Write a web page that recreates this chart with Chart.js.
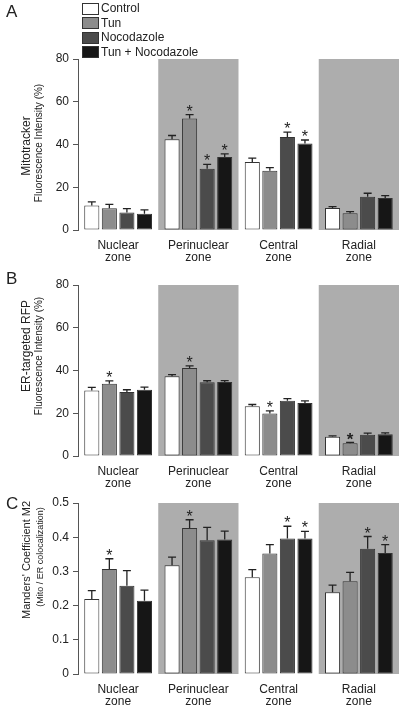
<!DOCTYPE html>
<html>
<head>
<meta charset="utf-8">
<script src="https://cdn.jsdelivr.net/npm/chart.js@4"></script>
<style>
  body { margin: 0; background: #fff; }
  #wrap { position: relative; width: 404px; height: 709px; font-family: "Liberation Sans", Arial, sans-serif; color: #222; }
  canvas { position: absolute; left: 0; }
  .t { position: absolute; white-space: nowrap; line-height: 1; }
  .rot { transform: translate(-50%, -50%) rotate(-90deg); }
  .key { position: absolute; left: 82px; width: 15px; height: 10px; border: 1px solid #333; }
</style>
</head>
<body>
<div id="wrap">
  <canvas id="chartA" width="404" height="266" style="top:0"></canvas>
  <canvas id="chartB" width="404" height="230" style="top:262px"></canvas>
  <canvas id="chartC" width="404" height="229" style="top:480px"></canvas>

  <div class="t" style="left:6px;top:3px;font-size:17px">A</div>
  <div class="t" style="left:6px;top:270px;font-size:17px">B</div>
  <div class="t" style="left:6px;top:495px;font-size:17px">C</div>

  <div class="key" style="top:3px;background:#fff"></div>
  <div class="key" style="top:17px;background:#8c8c8c"></div>
  <div class="key" style="top:32px;background:#4b4b4b"></div>
  <div class="key" style="top:46px;background:#161616"></div>
  <div class="t" style="left:101px;top:2px;font-size:12px">Control</div>
  <div class="t" style="left:101px;top:17px;font-size:12px">Tun</div>
  <div class="t" style="left:101px;top:31px;font-size:12px">Nocodazole</div>
  <div class="t" style="left:101px;top:46px;font-size:12px">Tun + Nocodazole</div>

  <div class="t rot" style="left:26px;top:146px;font-size:12px">Mitotracker</div>
  <div class="t rot" style="left:39px;top:143px;font-size:10px">Fluorescence Intensity (%)</div>
  <div class="t rot" style="left:26px;top:346px;font-size:12px">ER-targeted RFP</div>
  <div class="t rot" style="left:39px;top:356px;font-size:10px">Fluorescence Intensity (%)</div>
  <div class="t rot" style="left:26px;top:560px;font-size:11px">Manders' Coefficient M2</div>
  <div class="t rot" style="left:40px;top:557px;font-size:9px">(Mito / ER colocalization)</div>
</div>

<script>
const zones = [['Nuclear', 'zone'], ['Perinuclear', 'zone'], ['Central', 'zone'], ['Radial', 'zone']];
const groups = ['Control', 'Tun', 'Nocodazole', 'Tun + Nocodazole'];
const colors = ['#ffffff', '#8c8c8c', '#4b4b4b', '#161616'];
const shadedZones = [1, 3];

// A - Mitotracker
const mitoControl = [11.5, 42.4, 31.8, 10.3];
const mitoTun = [10.2, 52.2, 27.7, 7.8];
const mitoNoc = [8.2, 28.6, 43.5, 15.6];
const mitoTunNoc = [7.6, 34.1, 40.5, 15.0];
const mitoErr = [[1.7, 1.8, 1.8, 0.6], [1.8, 1.8, 1.5, 0.8], [1.8, 2.1, 2.3, 1.6], [1.8, 1.5, 1.6, 1.1]];
const mitoStars = [[0, 0, 0, 0], [0, 1, 0, 0], [0, 1, 1, 0], [0, 1, 1, 0]];

// B - ER-targeted RFP
const erControl = [30.6, 37.3, 23.3, 9.0];
const erTun = [33.8, 41.2, 19.9, 6.0];
const erNoc = [30.0, 34.5, 25.8, 10.0];
const erTunNoc = [31.0, 34.6, 24.8, 10.2];
const erErr = [[1.5, 0.8, 0.8, 0.4], [1.3, 1.0, 1.2, 0.4], [1.0, 0.7, 1.0, 0.7], [1.2, 0.7, 1.0, 0.6]];
const erStars = [[0, 0, 0, 0], [1, 1, 1, 2], [0, 0, 0, 0], [0, 0, 0, 0]];

// C - Manders' coefficient
const m2Control = [0.219, 0.318, 0.283, 0.239];
const m2Tun = [0.307, 0.427, 0.352, 0.271];
const m2Noc = [0.258, 0.391, 0.396, 0.366];
const m2TunNoc = [0.214, 0.393, 0.396, 0.354];
const m2Err = [[0.025, 0.024, 0.022, 0.021], [0.030, 0.024, 0.026, 0.026], [0.044, 0.038, 0.036, 0.036], [0.031, 0.025, 0.021, 0.024]];
const m2Stars = [[0, 0, 0, 0], [1, 1, 0, 0], [0, 0, 1, 1], [0, 0, 1, 1]];

const FONT = '"Liberation Sans", Arial, sans-serif';

const shadePlugin = {
    id: 'shade',
    beforeDatasetsDraw(chart) {
        const ctx = chart.ctx;
        const xs = chart.scales.x;
        const area = chart.chartArea;
        const half = xs.width / zones.length / 2;
        ctx.save();
        ctx.fillStyle = '#adadad';
        shadedZones.forEach(function (i) {
            const cx = xs.getPixelForValue(i);
            ctx.fillRect(cx - half, area.top, half * 2, area.bottom - area.top);
        });
        ctx.restore();
    }
};

const errorPlugin = {
    id: 'errors',
    afterDatasetsDraw(chart, args, opts) {
        const ctx = chart.ctx;
        const ys = chart.scales.y;
        ctx.save();
        ctx.strokeStyle = '#222';
        ctx.fillStyle = '#222';
        ctx.lineWidth = 1.3;
        chart.data.datasets.forEach(function (ds, i) {
            const meta = chart.getDatasetMeta(i);
            meta.data.forEach(function (bar, j) {
                const top = ys.getPixelForValue(ds.data[j] + opts.err[i][j]);
                ctx.beginPath();
                ctx.moveTo(bar.x, bar.y);
                ctx.lineTo(bar.x, top);
                ctx.moveTo(bar.x - 4, top);
                ctx.lineTo(bar.x + 4, top);
                ctx.stroke();
                const s = opts.stars[i][j];
                if (s) {
                    // star 2 = the heavier asterisk in panel B
                    ctx.font = (s === 2 ? 'bold 17px ' : '16px ') + FONT;
                    ctx.textAlign = 'center';
                    ctx.textBaseline = 'alphabetic';
                    ctx.fillText('*', bar.x, top + (s === 2 ? 3 : 2));
                }
            });
        });
        ctx.restore();
    }
};

function makeChart(id, series, err, stars, yMax, step, padTop, xHeight) {
    const data = {
        labels: zones,
        datasets: series.map(function (vals, i) {
            return {
                label: groups[i],
                data: vals,
                backgroundColor: colors[i],
                borderColor: '#333',
                borderWidth: 1,
                borderSkipped: false,
                categoryPercentage: 0.875,
                barPercentage: 0.86
            };
        })
    };

    const config = {
        type: 'bar',
        data: data,
        options: {
            responsive: false,
            animation: false,
            layout: { padding: { top: padTop, right: 5, bottom: 0, left: 0 } },
            plugins: {
                legend: { display: false },
                tooltip: { enabled: false },
                errors: { err: err, stars: stars }
            },
            scales: {
                x: {
                    grid: { display: false },
                    border: { display: false },
                    ticks: {
                        color: '#222',
                        padding: 2,
                        maxRotation: 0,
                        font: { family: FONT, size: 12, lineHeight: 1 }
                    },
                    afterFit: function (scale) { scale.height = xHeight; }
                },
                y: {
                    min: 0,
                    max: yMax,
                    grid: { drawOnChartArea: false, tickLength: 5, color: '#555', lineWidth: 1 },
                    border: { color: '#555', width: 1 },
                    ticks: {
                        stepSize: step,
                        color: '#222',
                        padding: 4,
                        font: { family: FONT, size: 12 }
                    },
                    afterFit: function (scale) { scale.width = 78; }
                }
            }
        },
        plugins: [shadePlugin, errorPlugin]
    };

    return new Chart(document.getElementById(id), config);
}

makeChart('chartA', [mitoControl, mitoTun, mitoNoc, mitoTunNoc], mitoErr, mitoStars, 80, 20, 59, 36);
makeChart('chartB', [erControl, erTun, erNoc, erTunNoc], erErr, erStars, 80, 20, 23, 36);
makeChart('chartC', [m2Control, m2Tun, m2Noc, m2TunNoc], m2Err, m2Stars, 0.5, 0.1, 23, 35);
</script>
</body>
</html>
